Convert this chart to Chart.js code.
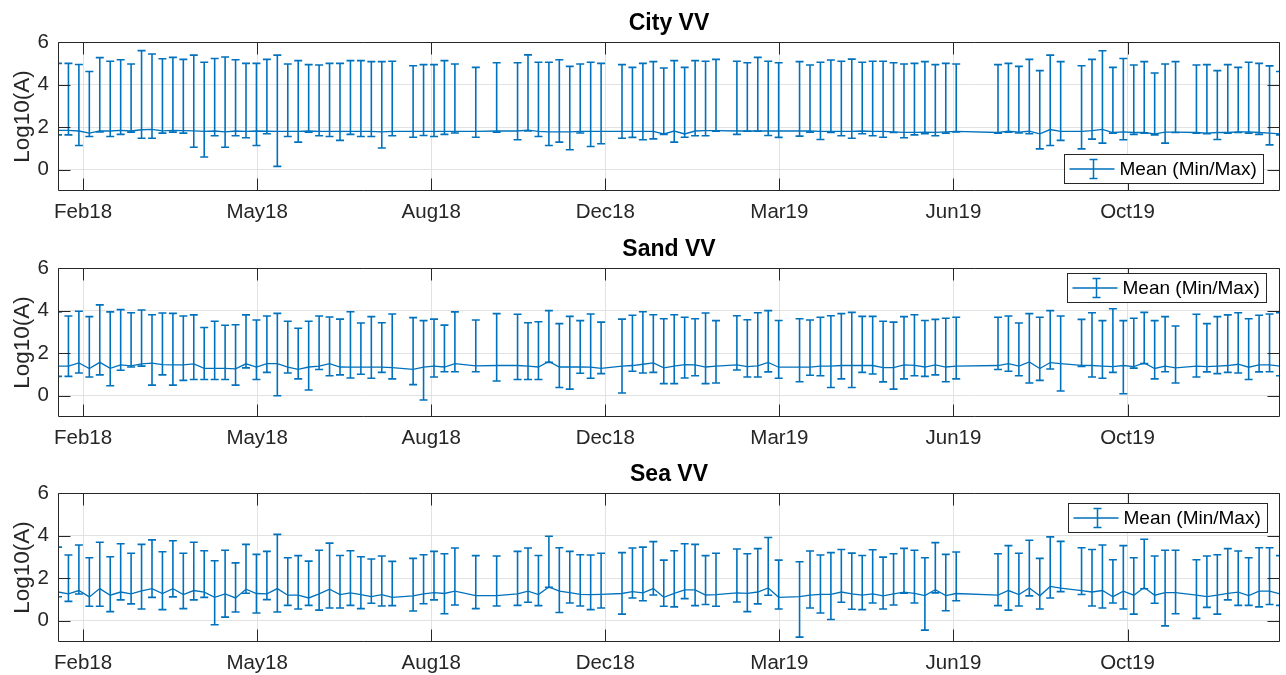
<!DOCTYPE html>
<html>
<head>
<meta charset="utf-8">
<script src="https://cdn.jsdelivr.net/npm/chart.js@4/dist/chart.umd.min.js"></script>
<style>
  html, body { margin: 0; padding: 0; background: #fff; overflow: hidden; }
  .panel { position: absolute; left: 0; width: 1286px; height: 225px; }
</style>
</head>
<body>
<div class="panel" style="top:0"><canvas id="ch-city" width="1286" height="225"></canvas></div>
<div class="panel" style="top:226px"><canvas id="ch-sand" width="1286" height="225"></canvas></div>
<div class="panel" style="top:451px"><canvas id="ch-sea" width="1286" height="225"></canvas></div>
<script>
// acquisition days, counted from the first one (25 Jan 2018)
const days = [
  0,6,12,18,24,30,36,42,48,54,60,66,72,78,84,90,96,102,108,114,120,126,132,138,144,150,
  156,162,168,174,180,186,192,204,210,216,222,228,240,252,264,270,276,282,288,294,300,306,312,324,330,336,
  342,348,354,360,366,372,378,390,396,402,408,414,426,432,438,444,450,456,462,468,474,480,486,492,498,504,510,516,
  540,546,552,558,564,570,576,588,594,600,606,612,618,624,630,636,642,654,660,666,672,678,684,690,696,702
];
const xTickDays = [14.4, 114.4, 214.4, 314.4, 414.4, 514.4, 614.4];
const xTickLabels = ['Feb18', 'May18', 'Aug18', 'Dec18', 'Mar19', 'Jun19', 'Oct19'];
const yTicks = [0, 2, 4, 6];

const cityMax = [
  5.00,5.00,4.95,4.62,5.27,5.10,5.17,4.97,5.60,5.44,5.22,5.28,5.19,5.39,5.05,5.23,5.30,5.17,5.00,5.00,5.19,5.39,4.97,5.13,4.94,4.92,
  5.00,5.00,5.13,5.13,5.08,5.08,5.10,4.89,4.94,4.94,5.13,4.97,4.81,5.03,5.03,5.40,5.05,5.05,5.17,4.86,4.97,5.05,5.00,4.94,4.81,5.00,
  5.08,4.78,5.13,4.81,5.13,5.10,5.19,5.10,5.03,5.28,5.10,5.03,5.08,4.92,5.05,5.16,5.10,5.20,5.05,5.10,5.10,5.03,4.97,5.00,5.08,4.94,5.00,4.97,
  4.94,5.00,4.86,5.19,4.66,5.39,5.08,4.89,5.19,5.59,4.81,5.23,4.92,5.08,4.55,4.97,5.08,4.92,4.94,4.66,4.94,4.81,5.05,5.00,4.88,4.62
];
const cityMin = [
  1.64,1.64,1.14,1.56,1.78,1.56,1.66,1.77,1.48,1.48,1.72,1.77,1.72,1.06,0.60,1.60,1.06,1.60,1.50,1.14,1.69,0.16,1.56,1.30,1.77,1.60,
  1.56,1.38,1.66,1.56,1.56,1.02,1.60,1.53,1.61,1.56,1.66,1.73,1.53,1.77,1.41,1.82,1.56,1.14,1.30,0.94,1.73,1.09,1.22,1.48,1.52,1.41,
  1.45,1.66,1.30,1.53,1.60,1.60,1.81,1.66,1.81,1.81,1.61,1.52,1.58,1.77,1.42,1.75,1.60,1.48,1.69,1.60,1.53,1.75,1.50,1.64,1.69,1.60,1.72,1.78,
  1.72,1.77,1.73,1.69,0.98,1.14,1.38,0.98,1.44,1.25,1.72,1.41,1.66,1.72,1.64,1.25,1.75,1.72,1.69,1.42,1.72,1.75,1.72,1.66,1.17,1.64
];
const cityMean = [
  1.85,1.85,1.82,1.72,1.83,1.82,1.85,1.82,1.88,1.90,1.83,1.85,1.84,1.83,1.80,1.82,1.78,1.82,1.80,1.82,1.81,1.80,1.80,1.80,1.82,1.80,
  1.80,1.80,1.80,1.80,1.80,1.78,1.80,1.80,1.80,1.80,1.80,1.80,1.80,1.82,1.82,1.86,1.80,1.78,1.78,1.78,1.80,1.80,1.80,1.80,1.80,1.80,
  1.80,1.68,1.82,1.68,1.82,1.84,1.84,1.82,1.82,1.82,1.82,1.82,1.82,1.82,1.80,1.80,1.80,1.80,1.82,1.80,1.80,1.78,1.76,1.76,1.77,1.76,1.78,1.80,
  1.75,1.81,1.77,1.81,1.69,1.89,1.80,1.80,1.84,1.90,1.75,1.78,1.75,1.75,1.69,1.77,1.77,1.75,1.72,1.75,1.75,1.78,1.78,1.75,1.72,1.69
];

const sandMax = [
  3.94,3.75,3.97,3.72,4.27,3.94,4.05,3.90,4.03,3.81,3.89,3.87,3.75,3.80,3.21,3.50,3.31,3.34,3.80,3.56,3.75,3.87,3.50,3.17,3.50,3.75,
  3.70,3.60,3.95,3.42,3.72,3.43,3.84,3.67,3.53,3.60,3.32,3.94,3.56,3.86,3.83,3.43,3.48,4.00,3.39,3.73,3.53,3.84,3.46,3.60,3.78,3.95,
  3.81,3.62,3.81,3.69,3.62,3.89,3.53,3.76,3.57,3.90,4.00,3.54,3.62,3.56,3.69,3.76,3.86,3.92,3.73,3.73,3.50,3.46,3.72,3.81,3.54,3.59,3.64,3.69,
  3.69,3.75,3.42,3.86,3.69,4.00,3.75,3.59,3.90,3.53,4.09,3.53,3.64,3.92,3.53,3.72,3.28,3.83,3.39,3.72,3.80,3.90,3.62,3.78,3.84,3.90
];
const sandMin = [
  0.91,0.91,1.07,0.88,0.98,0.47,1.20,1.35,1.39,0.50,0.98,0.50,0.72,0.76,0.76,0.76,0.76,0.50,1.31,0.76,1.10,0.00,1.07,0.79,0.27,1.23,
  0.94,0.98,0.83,1.01,0.82,1.10,0.79,0.52,-0.20,0.88,1.13,1.13,1.13,0.69,0.76,0.76,0.76,1.57,0.39,0.31,1.06,0.82,1.04,0.13,1.15,1.07,
  1.10,0.57,0.57,0.83,0.94,0.57,0.60,1.21,0.88,0.88,1.12,0.82,0.66,0.96,0.94,0.39,0.79,0.39,1.10,1.02,0.65,0.31,0.79,0.94,0.91,0.98,0.66,0.79,
  1.23,1.15,0.94,0.60,0.72,1.26,0.22,1.38,0.88,0.82,1.10,0.09,1.30,1.51,0.79,1.13,0.60,0.88,1.12,1.04,1.10,1.07,0.76,1.12,1.13,0.94
];
const sandMean = [
  1.39,1.39,1.54,1.28,1.57,1.29,1.45,1.40,1.50,1.53,1.46,1.45,1.45,1.50,1.29,1.29,1.29,1.26,1.50,1.35,1.51,1.51,1.34,1.24,1.35,1.39,
  1.51,1.35,1.34,1.34,1.34,1.34,1.32,1.24,1.34,1.39,1.35,1.51,1.40,1.42,1.42,1.39,1.35,1.61,1.35,1.35,1.35,1.34,1.29,1.39,1.42,1.48,
  1.54,1.31,1.39,1.46,1.45,1.35,1.39,1.45,1.37,1.40,1.57,1.34,1.34,1.34,1.39,1.39,1.42,1.42,1.43,1.42,1.32,1.32,1.45,1.43,1.35,1.45,1.35,1.39,
  1.42,1.51,1.39,1.59,1.28,1.56,1.51,1.43,1.42,1.39,1.37,1.42,1.37,1.54,1.28,1.39,1.31,1.39,1.37,1.39,1.42,1.48,1.34,1.45,1.45,1.39
];

const seaMax = [
  3.46,3.09,3.56,2.96,3.69,3.01,3.62,3.17,3.59,3.80,3.24,3.76,3.17,3.69,3.29,2.82,3.31,2.72,3.59,3.12,3.26,4.06,2.96,3.06,2.80,3.31,
  3.65,3.07,3.29,3.01,2.90,3.04,2.79,2.93,3.10,3.26,3.15,3.42,3.06,3.04,3.26,3.42,3.07,3.97,3.43,3.26,3.10,3.09,3.17,3.20,3.42,3.46,
  3.72,2.85,3.29,3.62,3.59,3.06,3.17,3.37,3.15,3.39,3.91,2.85,2.77,3.28,3.09,3.20,3.35,3.18,3.07,3.34,2.99,3.15,3.40,3.31,2.96,3.67,3.12,3.23,
  3.15,3.53,3.17,3.78,2.93,3.94,3.73,3.43,3.35,3.56,2.87,3.53,2.96,3.83,3.04,3.31,3.31,2.87,3.04,3.10,3.39,3.28,2.96,3.43,3.43,3.06
];
const seaMin = [
  1.13,0.91,1.26,0.68,0.68,0.43,0.98,0.79,0.55,1.10,0.52,1.12,0.57,0.98,1.10,-0.19,0.17,0.41,1.29,0.36,0.99,0.41,0.72,0.55,0.72,0.50,
  0.60,0.60,0.72,0.57,0.82,0.69,0.71,0.46,0.80,0.98,0.33,0.74,0.57,0.69,0.72,0.87,0.71,1.57,0.39,0.83,0.69,0.52,0.60,0.31,1.07,0.94,
  1.21,0.68,0.65,1.04,0.71,0.76,0.68,0.88,0.43,0.79,1.20,0.55,-0.77,0.60,0.36,0.06,0.87,0.54,0.52,0.83,0.55,0.74,1.29,0.83,-0.44,1.31,0.47,0.94,
  0.71,0.50,0.69,1.17,0.55,1.07,1.37,1.23,0.69,0.60,0.83,0.55,0.31,1.50,0.82,-0.24,0.33,0.11,0.63,0.31,0.98,0.72,0.72,0.65,0.76,0.72
];
const seaMean = [
  1.35,1.26,1.42,1.12,1.51,1.20,1.35,1.26,1.40,1.51,1.28,1.51,1.23,1.42,1.34,1.10,1.26,1.07,1.48,1.28,1.26,1.51,1.20,1.20,1.07,1.26,
  1.48,1.23,1.31,1.23,1.13,1.23,1.10,1.17,1.26,1.32,1.28,1.39,1.18,1.18,1.26,1.39,1.23,1.59,1.39,1.32,1.24,1.23,1.24,1.28,1.37,1.31,
  1.51,1.10,1.29,1.45,1.45,1.21,1.23,1.31,1.29,1.35,1.54,1.10,1.13,1.20,1.24,1.24,1.35,1.26,1.20,1.26,1.17,1.26,1.34,1.29,1.18,1.46,1.18,1.28,
  1.20,1.42,1.23,1.54,1.17,1.61,1.53,1.42,1.35,1.42,1.13,1.39,1.20,1.56,1.20,1.32,1.32,1.20,1.13,1.20,1.29,1.34,1.18,1.39,1.39,1.26
];

const BLUE = '#0072BD';
const AXIS = '#262626';
const GRID = '#e2e2e2';
const FONT = '"Liberation Sans", Arial, Helvetica, sans-serif';
const TICK = 12;
const CAP = 4;
const LEGEND_TEXT = 'Mean (Min/Max)';

// min/max whiskers with caps, placed with the chart's own scales
function errorBars(lo, hi) {
  return {
    id: 'errorBars',
    afterDatasetsDraw(chart) {
      const { ctx, chartArea: a, scales: { x, y } } = chart;
      ctx.save();
      ctx.beginPath();
      ctx.rect(a.left, a.top, a.width, a.height);
      ctx.clip();
      ctx.strokeStyle = BLUE;
      ctx.lineWidth = 1.6;
      ctx.beginPath();
      days.forEach((d, i) => {
        const px = x.getPixelForValue(d);
        const y0 = y.getPixelForValue(lo[i]);
        const y1 = y.getPixelForValue(hi[i]);
        ctx.moveTo(px, y0); ctx.lineTo(px, y1);
        ctx.moveTo(px - CAP, y0); ctx.lineTo(px + CAP, y0);
        ctx.moveTo(px - CAP, y1); ctx.lineTo(px + CAP, y1);
      });
      ctx.stroke();
      ctx.restore();
    }
  };
}

// box, inward ticks on all sides, and the legend
function frame(leg) {
  return {
    id: 'frame',
    afterDraw(chart) {
      const { ctx, chartArea: a, scales: { x, y } } = chart;
      const L = Math.round(a.left) + 0.5, R = Math.round(a.right) - 0.5;
      const T = Math.round(a.top) + 0.5, B = Math.round(a.bottom) - 0.5;
      ctx.save();
      ctx.strokeStyle = AXIS;
      ctx.lineWidth = 1;
      ctx.beginPath();
      ctx.rect(L, T, R - L, B - T);
      x.ticks.forEach(t => {
        const p = Math.round(x.getPixelForValue(t.value)) + 0.5;
        ctx.moveTo(p, B); ctx.lineTo(p, B - TICK);
        ctx.moveTo(p, T); ctx.lineTo(p, T + TICK);
      });
      y.ticks.forEach(t => {
        const p = Math.round(y.getPixelForValue(t.value)) + 0.5;
        ctx.moveTo(L, p); ctx.lineTo(L + TICK, p);
        ctx.moveTo(R, p); ctx.lineTo(R - TICK, p);
      });
      ctx.stroke();

      // legend
      ctx.font = '19px ' + FONT;
      const tw = ctx.measureText(LEGEND_TEXT).width;
      const w = Math.round(55 + tw + 7), h = 29;
      const bx = Math.round(a.right - leg.dx - w) + 0.5;
      const by = Math.round(leg.corner === 'br' ? a.bottom - leg.dy - h : a.top + leg.dy) + 0.5;
      ctx.fillStyle = '#fff';
      ctx.fillRect(bx, by, w, h);
      ctx.strokeStyle = AXIS;
      ctx.strokeRect(bx, by, w, h);
      const cy = by + h / 2;
      ctx.strokeStyle = BLUE;
      ctx.lineWidth = 1.5;
      ctx.beginPath();
      ctx.moveTo(bx + 5, cy); ctx.lineTo(bx + 50, cy);
      const ix = bx + 29;
      ctx.moveTo(ix, cy - 9.5); ctx.lineTo(ix, cy + 9.5);
      ctx.moveTo(ix - CAP, cy - 9.5); ctx.lineTo(ix + CAP, cy - 9.5);
      ctx.moveTo(ix - CAP, cy + 9.5); ctx.lineTo(ix + CAP, cy + 9.5);
      ctx.stroke();
      ctx.fillStyle = '#000';
      ctx.textBaseline = 'middle';
      ctx.textAlign = 'left';
      ctx.fillText(LEGEND_TEXT, bx + 55, cy + 1);
      ctx.restore();
    }
  };
}

function makePanel(id, title, mean, lo, hi, leg) {
  return new Chart(document.getElementById(id).getContext('2d'), {
    type: 'line',
    data: {
      datasets: [{
        label: LEGEND_TEXT,
        data: days.map((d, i) => ({ x: d, y: mean[i] })),
        borderColor: BLUE, borderWidth: 1.3, pointRadius: 0, tension: 0, fill: false
      }]
    },
    options: {
      responsive: false, animation: false,
      layout: { padding: { left: 0, right: 6, top: 0, bottom: 0 } },
      plugins: {
        legend: { display: false },
        tooltip: { enabled: false },
        title: {
          display: true, text: title, fullSize: false, color: '#000',
          font: { family: FONT, size: 23, weight: 'bold', lineHeight: 1.2 },
          padding: { top: 10, bottom: 4.5 }
        }
      },
      scales: {
        x: {
          type: 'linear', min: days[0], max: days[days.length - 1],
          afterBuildTicks: s => { s.ticks = xTickDays.map(v => ({ value: v })); },
          afterFit: s => { s.height = 34; },
          ticks: {
            callback: (v, i) => xTickLabels[i], maxRotation: 0, autoSkip: false,
            padding: 9.5, color: AXIS, font: { family: FONT, size: 20.5 }
          },
          grid: { color: GRID, drawTicks: false },
          border: { display: false }
        },
        y: {
          type: 'linear', min: -1, max: 6,
          afterBuildTicks: s => { s.ticks = yTicks.map(v => ({ value: v })); },
          afterFit: s => { s.width = 58; },
          ticks: { padding: 9, color: AXIS, font: { family: FONT, size: 20.5 } },
          title: {
            display: true, text: 'Log10(A)', color: AXIS,
            font: { family: FONT, size: 22.5, lineHeight: 1.2 },
            padding: { top: 9, bottom: 0 }
          },
          grid: { color: GRID, drawTicks: false },
          border: { display: false }
        }
      }
    },
    plugins: [errorBars(lo, hi), frame(leg)]
  });
}

makePanel('ch-city', 'City VV', cityMean, cityMin, cityMax, { corner: 'br', dx: 17, dy: 8 });
makePanel('ch-sand', 'Sand VV', sandMean, sandMin, sandMax, { corner: 'tr', dx: 14, dy: 4.5 });
makePanel('ch-sea', 'Sea VV', seaMean, seaMin, seaMax, { corner: 'tr', dx: 13, dy: 9.5 });
</script>
</body>
</html>
